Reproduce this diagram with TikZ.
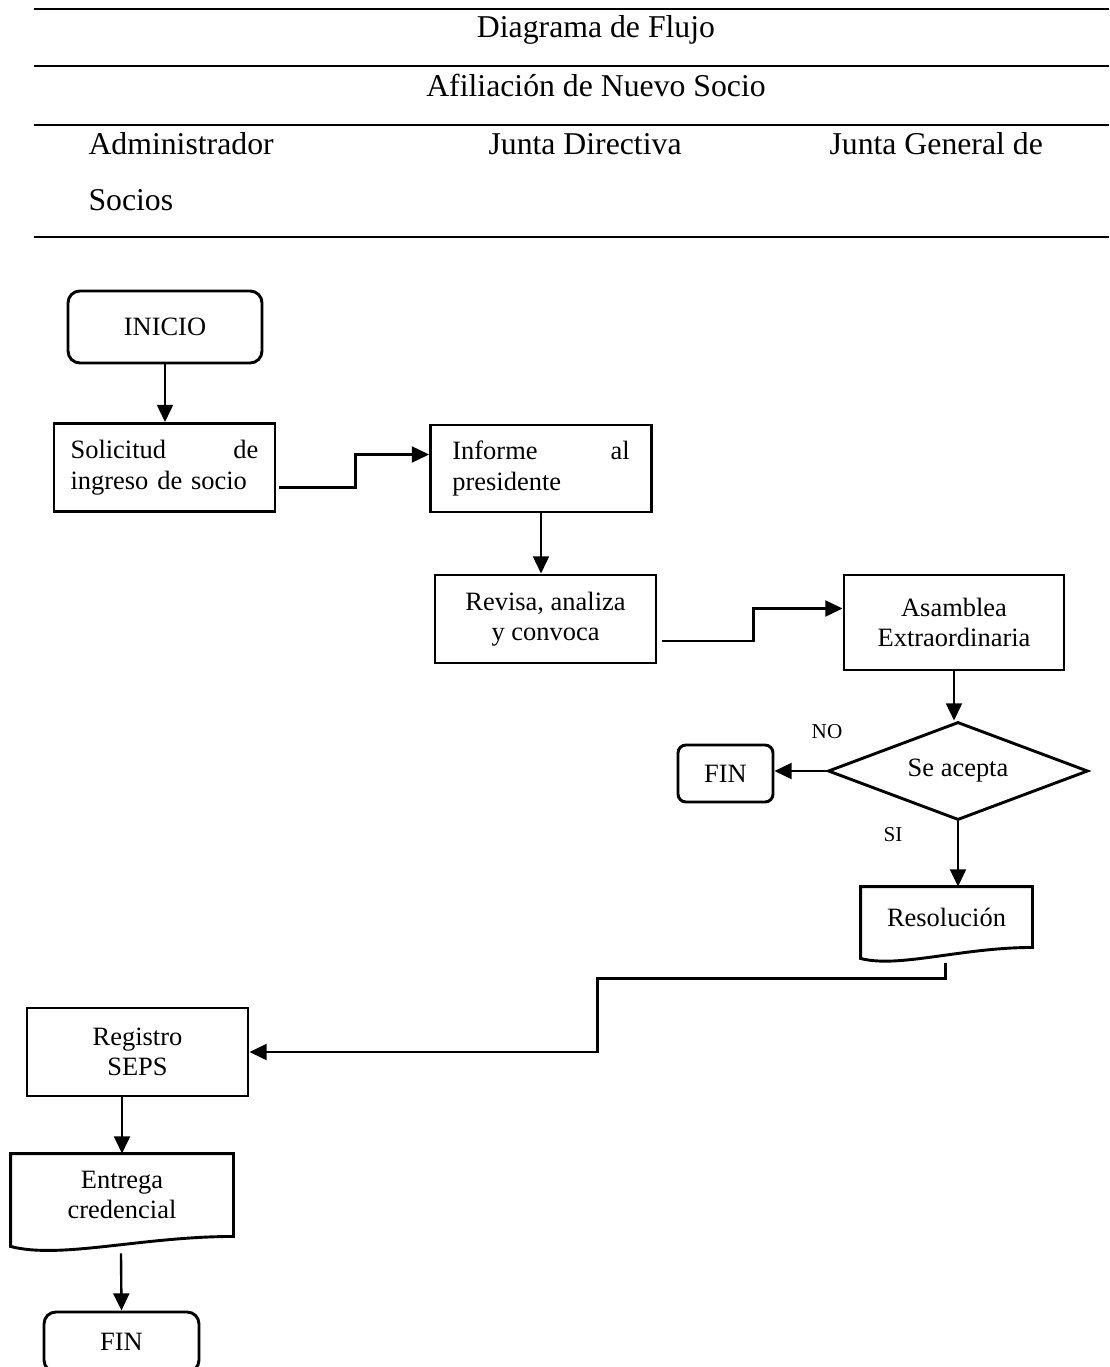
\documentclass[tikz,border=0pt]{standalone}
\usepackage{fontspec}
\setmainfont{Liberation Serif}
\usetikzlibrary{shapes.geometric, arrows.meta, calc, positioning}

% un pixel del dibujo
\newcommand{\esc}{0.378pt}

\tikzset{
  caja/.style={draw, line width=1.1pt, inner sep=2pt, align=center, font=\fontsize{10}{11.5}\selectfont},
  proceso/.style={caja, rectangle, minimum width=221*\esc, minimum height=88*\esc},
  terminal/.style={caja, rectangle, rounded corners=4.5pt},
  decision/.style={caja, diamond, aspect=2.65, inner sep=0pt, minimum width=260*\esc, minimum height=98*\esc},
  documento/.style={caja, draw=none, rectangle},
  flecha/.style={line width=0.9pt, -{Triangle[length=6.5pt,width=6pt]}},
  linea/.style={line width=1.1pt},
  encabezado/.style={inner sep=0pt, font=\fontsize{12}{14}\selectfont},
  etiqueta/.style={inner sep=0pt, font=\fontsize{8}{9.6}\selectfont}
}

\begin{document}
\begin{tikzpicture}[x=\esc, y=-\esc]
\useasboundingbox (0,0) rectangle (1109,1367);

% encabezado
\foreach \y in {9,66,125,237}
  \draw[linea] (34,\y) -- (1109,\y);
\node[encabezado, anchor=base] (titulo) at (596,38) {Diagrama de Flujo};
\node[encabezado, anchor=base] (subtitulo) at (596,97) {Afiliación de Nuevo Socio};
\node[encabezado, anchor=base west] (admin) at (88,155) {Administrador};
\node[encabezado, anchor=base west] (directiva) at (488,155) {Junta Directiva};
\node[encabezado, anchor=base west] (general) at (829,155) {Junta General de};
\node[encabezado, anchor=base west] (socios) at (88,211) {Socios};

% estados
\node[terminal, minimum width=194*\esc, minimum height=72*\esc] (inicio) at (165,327) {INICIO};
\node[proceso, text width=71pt, align=left] (solicitud) at (164.5,467.5) {Solicitud\hfill de\\ingreso de socio};
\node[proceso, minimum height=87*\esc, text width=67pt, align=left] (informe) at (541,468.5) {Informe\hfill al\\presidente};
\node[proceso] (revisa) at (545.5,619) {Revisa, analiza\\y convoca};
\node[proceso, minimum width=220*\esc, minimum height=95*\esc] (asamblea) at (954,622.5) {Asamblea\\Extraordinaria};
\node[decision] (acepta) at (958,771) {Se acepta};
\node[terminal, rounded corners=3pt, minimum width=95*\esc, minimum height=57*\esc] (fin1) at (725.5,773.5) {FIN};
\node[documento, minimum width=169*\esc, minimum height=58*\esc] (resolucion) at (946.5,917) {Resolución};
\node[proceso] (registro) at (137.5,1052) {Registro\\SEPS};
\node[documento, minimum width=220*\esc, minimum height=80*\esc] (entrega) at (122,1195) {Entrega\\credencial};
\node[terminal, minimum width=155*\esc, minimum height=60*\esc] (fin2) at (121.5,1342) {FIN};

% contorno de los documentos
\draw[line width=1.1pt] (resolucion.north west) -- (resolucion.north east) -- (resolucion.south east)
  .. controls +(-71,0) and +(38,10) .. ($(resolucion.south west)+(0,11)$) -- cycle;
\draw[line width=1.1pt] (entrega.north west) -- (entrega.north east) -- (entrega.south east)
  .. controls +(-92,0) and +(50,13) .. ($(entrega.south west)+(0,10)$) -- cycle;

% etiquetas
\node[etiqueta] (no) at (827,732) {NO};
\node[etiqueta] (si) at (893,835) {SI};

% transiciones
\draw[flecha] (inicio.south) -- (inicio.south |- solicitud.north);
\draw[flecha] ($(solicitud.east)+(3,20)$) -- ++(76,0) |- ($(informe.west)+(0,-14)$);
\draw[flecha] (informe.south) -- (informe.south |- revisa.north);
\draw[flecha] ($(revisa.east)+(5,22)$) -- ++(91,0) |- ($(asamblea.west)+(0,-14)$);
\draw[flecha] (asamblea.south) -- (asamblea.south |- acepta.north);
\draw[flecha] (acepta.west) -- (acepta.west -| fin1.east);
\draw[flecha] (acepta.south) -- (acepta.south |- resolucion.north);
\draw[flecha] ($(resolucion.south)+(-1,16)$) -- ++(0,15) -- ++(-348,0) |- (registro.east);
\draw[flecha] (entrega.north |- registro.south) -- (entrega.north);
\draw[flecha] ($(entrega.south)+(-1,17)$) -- (fin2.north);
\end{tikzpicture}
\end{document}
